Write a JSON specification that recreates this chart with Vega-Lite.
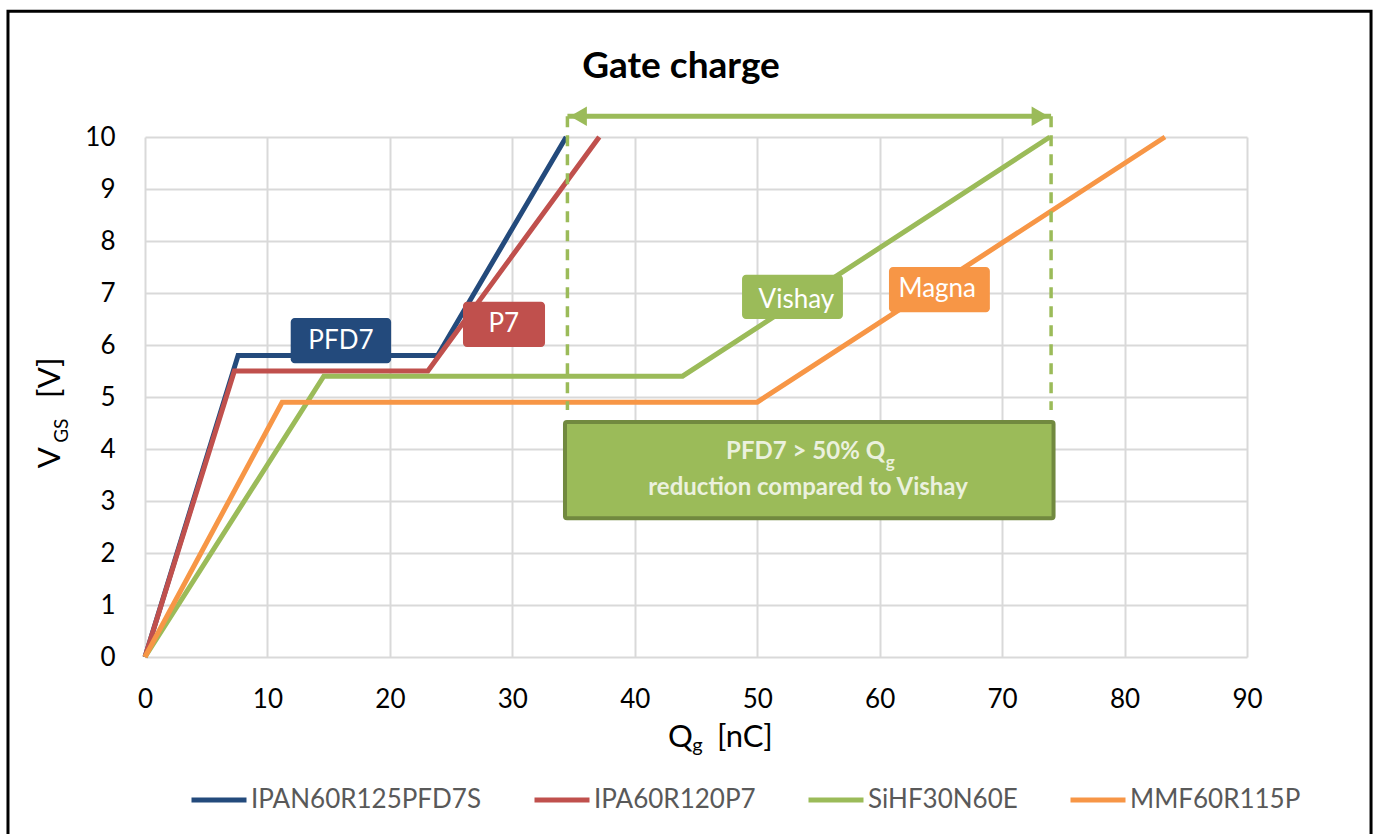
{
  "$schema": "https://vega.github.io/schema/vega-lite/v6.json",
  "width": 1102,
  "height": 520,
  "autosize": {"type": "none"},
  "padding": {"left": 145, "top": 137, "right": 129, "bottom": 177},
  "background": "white",
  "title": {"text": "Gate charge", "font": "Lato", "fontSize": 37, "fontWeight": "bold", "color": "#000000", "anchor": "middle", "frame": "group", "offset": -105, "dx": -15, "baseline": "alphabetic"},
  "config": {
    "view": {"stroke": null},
    "axis": {"grid": true, "gridColor": "#D9D9D9", "gridWidth": 2, "domain": false, "ticks": false, "labelFont": "Lato", "labelFontSize": 26, "labelColor": "#000000", "title": null, "labelFlush": false, "labelOverlap": false},
    "axisX": {"tickCount": 10, "labelPadding": 29},
    "axisY": {"tickCount": 10, "labelPadding": 30}
  },
  "datasets": {
    "curves": [
      {"series": "IPAN60R125PFD7S", "o": 0, "x": 0, "y": 0},
      {"series": "IPAN60R125PFD7S", "o": 1, "x": 7.6, "y": 5.8},
      {"series": "IPAN60R125PFD7S", "o": 2, "x": 23.9, "y": 5.8},
      {"series": "IPAN60R125PFD7S", "o": 3, "x": 34.4, "y": 10},
      {"series": "IPA60R120P7", "o": 0, "x": 0, "y": 0},
      {"series": "IPA60R120P7", "o": 1, "x": 7.3, "y": 5.5},
      {"series": "IPA60R120P7", "o": 2, "x": 23.1, "y": 5.5},
      {"series": "IPA60R120P7", "o": 3, "x": 37.1, "y": 10},
      {"series": "SiHF30N60E", "o": 0, "x": 0, "y": 0},
      {"series": "SiHF30N60E", "o": 1, "x": 14.6, "y": 5.4},
      {"series": "SiHF30N60E", "o": 2, "x": 43.9, "y": 5.4},
      {"series": "SiHF30N60E", "o": 3, "x": 73.9, "y": 10},
      {"series": "MMF60R115P", "o": 0, "x": 0, "y": 0},
      {"series": "MMF60R115P", "o": 1, "x": 11.2, "y": 4.9},
      {"series": "MMF60R115P", "o": 2, "x": 50.0, "y": 4.9},
      {"series": "MMF60R115P", "o": 3, "x": 83.3, "y": 10}
    ],
    "tags": [
      {"series": "IPAN60R125PFD7S", "label": "PFD7", "x": 11.9, "x2": 20.1, "y": 6.52, "y2": 5.65, "tx": 16.0, "ty": 6.08},
      {"series": "IPA60R120P7", "label": "P7", "x": 25.97, "x2": 32.67, "y": 6.83, "y2": 5.96, "tx": 29.3, "ty": 6.40},
      {"series": "SiHF30N60E", "label": "Vishay", "x": 48.76, "x2": 57.0, "y": 7.35, "y2": 6.5, "tx": 53.2, "ty": 6.87},
      {"series": "MMF60R115P", "label": "Magna", "x": 60.76, "x2": 69.0, "y": 7.5, "y2": 6.63, "tx": 64.7, "ty": 7.08}
    ],
    "frame": [{"x": -11.19, "x2": 100.13, "y": 12.42, "y2": -3.6}],
    "dashes": [{"x": 34.5, "y": 10.4, "y2": 4.75}, {"x": 74.0, "y": 10.4, "y2": 4.75}],
    "arrow": [{"x": 34.5, "x2": 74.0, "y": 10.4}],
    "headL": [{"x": 35.4, "y": 10.4}],
    "headR": [{"x": 73.1, "y": 10.4}],
    "box": [{"x": 34.3, "x2": 74.2, "y": 4.52, "y2": 2.67}],
    "boxMain": [{"x": 60.44, "y": 3.94, "text": "PFD7 > 50% Q"}, {"x": 54.15, "y": 3.25, "text": "reduction compared to Vishay"}],
    "boxSub": [{"x": 60.5, "y": 3.74, "text": "g"}],
    "xTitle": [{"x": 42.72, "y": -1.731, "text": "Q"}, {"x": 46.72, "y": -1.731, "text": "[nC]"}],
    "xTitleSub": [{"x": 44.7, "y": -1.827, "text": "g"}],
    "yTitle": [{"x": -7.68, "y": 3.63, "text": "V"}, {"x": -7.68, "y": 4.98, "text": "[V]"}],
    "yTitleSub": [{"x": -6.74, "y": 4.12, "text": "GS"}]
  },
  "layer": [
    {
      "data": {"name": "curves"},
      "mark": {"type": "line", "strokeWidth": 5, "strokeJoin": "miter"},
      "encoding": {
        "x": {"field": "x", "type": "quantitative", "scale": {"domain": [0, 90], "nice": false}},
        "y": {"field": "y", "type": "quantitative", "scale": {"domain": [0, 10], "nice": false}},
        "color": {
          "field": "series", "type": "nominal",
          "sort": ["IPAN60R125PFD7S", "IPA60R120P7", "SiHF30N60E", "MMF60R115P"],
          "scale": {"domain": ["IPAN60R125PFD7S", "IPA60R120P7", "SiHF30N60E", "MMF60R115P"], "range": ["#234A7C", "#C0504D", "#9BBB59", "#F79646"]},
          "legend": {"orient": "none", "legendX": 44, "legendY": 633, "direction": "horizontal", "columns": 4, "title": null, "symbolType": "stroke", "symbolSize": 3025, "symbolStrokeWidth": 5, "labelFont": "Lato", "labelFontSize": 26, "labelColor": "#595959", "labelOffset": 2, "columnPadding": 42, "labelLimit": 400}
        },
        "order": {"field": "o", "type": "quantitative"}
      }
    },
    {
      "data": {"name": "frame"},
      "mark": {"type": "rect", "fill": null, "fillOpacity": 0, "stroke": "#000000", "strokeWidth": 3},
      "encoding": {
        "x": {"field": "x", "type": "quantitative"},
        "x2": {"field": "x2"},
        "y": {"field": "y", "type": "quantitative"},
        "y2": {"field": "y2"}
      }
    },
    {
      "data": {"name": "dashes"},
      "mark": {"type": "rule", "color": "#9BBB59", "strokeWidth": 3.5, "strokeDash": [11, 8]},
      "encoding": {
        "x": {"field": "x", "type": "quantitative"},
        "y": {"field": "y", "type": "quantitative"},
        "y2": {"field": "y2"}
      }
    },
    {
      "data": {"name": "arrow"},
      "mark": {"type": "rule", "color": "#9BBB59", "strokeWidth": 5},
      "encoding": {
        "x": {"field": "x", "type": "quantitative"},
        "x2": {"field": "x2"},
        "y": {"field": "y", "type": "quantitative"}
      }
    },
    {
      "data": {"name": "headL"},
      "mark": {"type": "point", "shape": "triangle-left", "filled": true, "color": "#9BBB59", "size": 380, "opacity": 1},
      "encoding": {
        "x": {"field": "x", "type": "quantitative"},
        "y": {"field": "y", "type": "quantitative"}
      }
    },
    {
      "data": {"name": "headR"},
      "mark": {"type": "point", "shape": "triangle-right", "filled": true, "color": "#9BBB59", "size": 380, "opacity": 1},
      "encoding": {
        "x": {"field": "x", "type": "quantitative"},
        "y": {"field": "y", "type": "quantitative"}
      }
    },
    {
      "data": {"name": "box"},
      "mark": {"type": "rect", "fill": "#9BBB59", "stroke": "#71893F", "strokeWidth": 4, "cornerRadius": 2},
      "encoding": {
        "x": {"field": "x", "type": "quantitative"},
        "x2": {"field": "x2"},
        "y": {"field": "y", "type": "quantitative"},
        "y2": {"field": "y2"}
      }
    },
    {
      "data": {"name": "boxMain"},
      "mark": {"type": "text", "font": "Lato", "fontSize": 24, "fontWeight": "bold", "color": "#EBF1DE", "baseline": "middle", "align": {"expr": "datum.text.length < 14 ? 'right' : 'center'"}},
      "encoding": {
        "x": {"field": "x", "type": "quantitative"},
        "y": {"field": "y", "type": "quantitative"},
        "text": {"field": "text"}
      }
    },
    {
      "data": {"name": "boxSub"},
      "mark": {"type": "text", "font": "Lato", "fontSize": 17, "fontWeight": "bold", "color": "#EBF1DE", "baseline": "middle", "align": "left"},
      "encoding": {
        "x": {"field": "x", "type": "quantitative"},
        "y": {"field": "y", "type": "quantitative"},
        "text": {"field": "text"}
      }
    },
    {
      "data": {"name": "tags"},
      "mark": {"type": "rect", "cornerRadius": 4},
      "encoding": {
        "x": {"field": "x", "type": "quantitative"},
        "x2": {"field": "x2"},
        "y": {"field": "y", "type": "quantitative"},
        "y2": {"field": "y2"},
        "color": {"field": "series", "type": "nominal", "legend": null}
      }
    },
    {
      "data": {"name": "tags"},
      "mark": {"type": "text", "font": "Lato", "fontSize": 26, "color": "#FFFFFF", "baseline": "middle", "align": "center"},
      "encoding": {
        "x": {"field": "tx", "type": "quantitative"},
        "y": {"field": "ty", "type": "quantitative"},
        "text": {"field": "label"}
      }
    },
    {
      "data": {"name": "xTitle"},
      "mark": {"type": "text", "font": "Lato", "fontSize": 31, "color": "#000000", "baseline": "alphabetic", "align": "left"},
      "encoding": {
        "x": {"field": "x", "type": "quantitative"},
        "y": {"field": "y", "type": "quantitative"},
        "text": {"field": "text"}
      }
    },
    {
      "data": {"name": "xTitleSub"},
      "mark": {"type": "text", "font": "Lato", "fontSize": 20, "color": "#000000", "baseline": "alphabetic", "align": "left"},
      "encoding": {
        "x": {"field": "x", "type": "quantitative"},
        "y": {"field": "y", "type": "quantitative"},
        "text": {"field": "text"}
      }
    },
    {
      "data": {"name": "yTitle"},
      "mark": {"type": "text", "font": "Lato", "fontSize": 31, "color": "#000000", "baseline": "middle", "align": "left", "angle": 270},
      "encoding": {
        "x": {"field": "x", "type": "quantitative"},
        "y": {"field": "y", "type": "quantitative"},
        "text": {"field": "text"}
      }
    },
    {
      "data": {"name": "yTitleSub"},
      "mark": {"type": "text", "font": "Lato", "fontSize": 19, "color": "#000000", "baseline": "middle", "align": "left", "angle": 270},
      "encoding": {
        "x": {"field": "x", "type": "quantitative"},
        "y": {"field": "y", "type": "quantitative"},
        "text": {"field": "text"}
      }
    }
  ]
}
